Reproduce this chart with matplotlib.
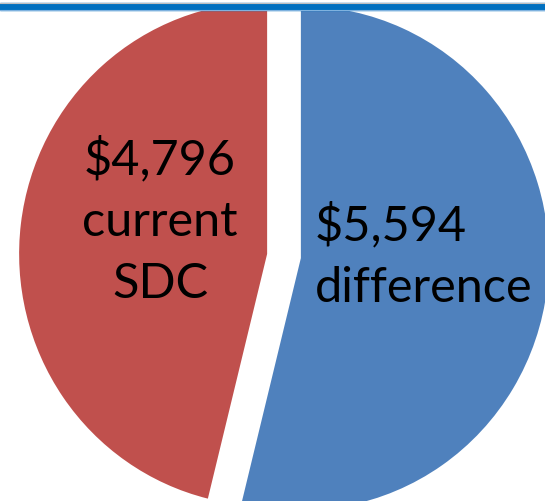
import matplotlib.pyplot as plt

# values
labels = ['current\nSDC', 'difference']
values = [4796, 5594]
colors = ['#C0504D', '#4F81BD']

plt.rcParams['font.family'] = ['Lato', 'DejaVu Sans']

fig = plt.figure(figsize=(5.45, 5.01), dpi=100)
ax = fig.add_axes([0, 0, 1, 1])

# the slide pie is slightly taller than wide, so y units are stretched a bit
k = 252 / 248
ymax = 501 / k

def yd(y_img):
    # pixel row (from top) -> data y
    return (501 - y_img) / k

# pie is bigger than the visible area, cropped at the right and bottom
ax.pie(values, colors=colors, startangle=90, counterclock=True,
       center=(284, yd(256)), radius=248, explode=[17, 17],
       wedgeprops={'linewidth': 0}, frame=False)

ax.set_xlim(0, 545)
ax.set_ylim(0, ymax)
ax.set_aspect('auto')
ax.axis('off')

# slide header bar
ax.axhspan(yd(3.5), ymax, color='white', zorder=5)
ax.axhspan(yd(9.5), yd(3), color='#0070C0', zorder=6)
ax.axhline(yd(3), color='#BFBFBF', lw=0.8, zorder=7)
ax.axhline(yd(9.7), color='#7FB2DF', lw=0.8, zorder=7)

ax.text(160, yd(298), f"${values[0]:,}\n{labels[0]}", ha='center', va='baseline',
        fontsize=35, linespacing=1.5, multialignment='center')
ax.text(315, yd(302), f"${values[1]:,}\n{labels[1]}", ha='left', va='baseline',
        fontsize=35, linespacing=1.5)

fig.savefig('out.png', dpi=100)
